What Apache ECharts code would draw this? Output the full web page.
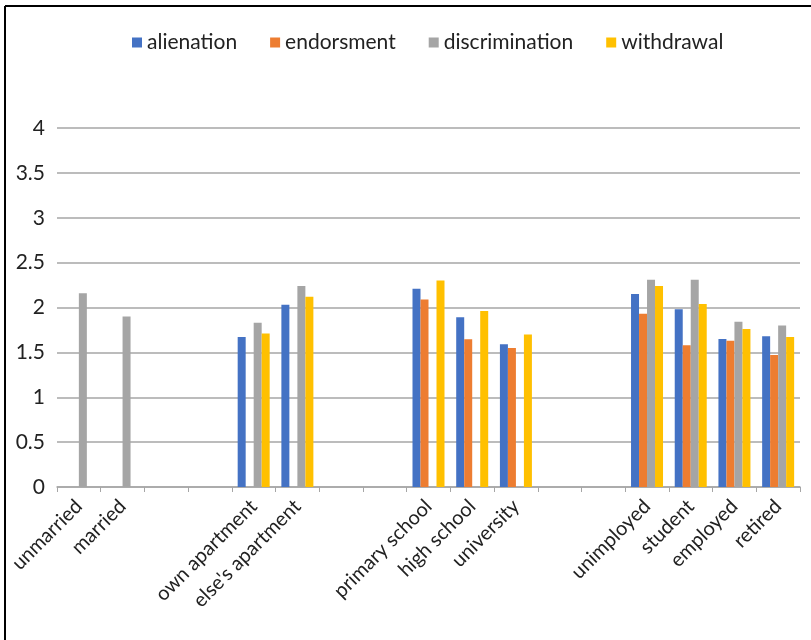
<!DOCTYPE html>
<html>
<head>
<meta charset="utf-8">
<script src="https://cdn.jsdelivr.net/npm/echarts@6/dist/echarts.min.js"></script>
<style>
html,body{margin:0;padding:0;background:#fff;}
#chart{width:811px;height:640px;}
</style>
</head>
<body>
<div id="chart"></div>
<script>
const categories = ['unmarried','married','','','own apartment',"else's apartment",'','','primary school','high school','university','','','unimployed','student','employed','retired'];
const alienation     = [null,null,null,null,1.67,2.03,null,null,2.21,1.89,1.59,null,null,2.15,1.98,1.65,1.68];
const endorsment     = [null,null,null,null,null,null,null,null,2.09,1.645,1.55,null,null,1.93,1.58,1.63,1.47];
const discrimination = [2.16,1.90,null,null,1.83,2.24,null,null,null,null,null,null,null,2.31,2.31,1.84,1.80];
const withdrawal     = [null,null,null,null,1.71,2.12,null,null,2.30,1.96,1.70,null,null,2.24,2.04,1.76,1.67];
const yTicks = [0,0.5,1,1.5,2,2.5,3,3.5,4];

const chart = echarts.init(document.getElementById('chart'));
const font = 'Lato, "Open Sans", sans-serif';
const mk = (name, data, color) => ({
  name, type: 'bar', data, barWidth: 8, barGap: '0%',
  itemStyle: { color }
});
chart.setOption({
  animation: false,
  color: ['#4472C4','#ED7D31','#A5A5A5','#FFC000'],
  textStyle: { fontFamily: font },
  legend: {
    top: 27, left: 127, itemWidth: 10, itemHeight: 10, itemGap: 33,
    icon: 'rect',
    textStyle: { fontSize: 21, color: '#222', fontFamily: font }
  },
  grid: { left: 57, right: 11, top: 128, bottom: 153 },
  xAxis: {
    type: 'category', data: categories,
    axisLine: { lineStyle: { color: '#a6a6a6', width: 1.5 } },
    axisTick: { show: true, interval: 0, length: 5, lineStyle: { color: '#a6a6a6' } },
    axisLabel: { interval: 0, rotate: 45, fontSize: 20, color: '#222', margin: 16, fontFamily: font }
  },
  yAxis: {
    type: 'value', min: 0, max: 4, interval: 0.5,
    axisLine: { show: false }, axisTick: { show: false },
    splitLine: { lineStyle: { color: '#a6a6a6', width: 1.5 } },
    axisLabel: { fontSize: 21, color: '#222', margin: 12, fontFamily: font,
      formatter: v => yTicks.includes(v) ? String(v) : '' }
  },
  graphic: [
    { type: 'line', shape: { x1: 5, y1: 6, x2: 811, y2: 6 }, style: { stroke: '#000', lineWidth: 2 } },
    { type: 'line', shape: { x1: 5, y1: 6, x2: 5, y2: 640 }, style: { stroke: '#000', lineWidth: 2 } }
  ],
  series: [
    mk('alienation', alienation, '#4472C4'),
    mk('endorsment', endorsment, '#ED7D31'),
    mk('discrimination', discrimination, '#A5A5A5'),
    mk('withdrawal', withdrawal, '#FFC000')
  ]
});
</script>
</body>
</html>
